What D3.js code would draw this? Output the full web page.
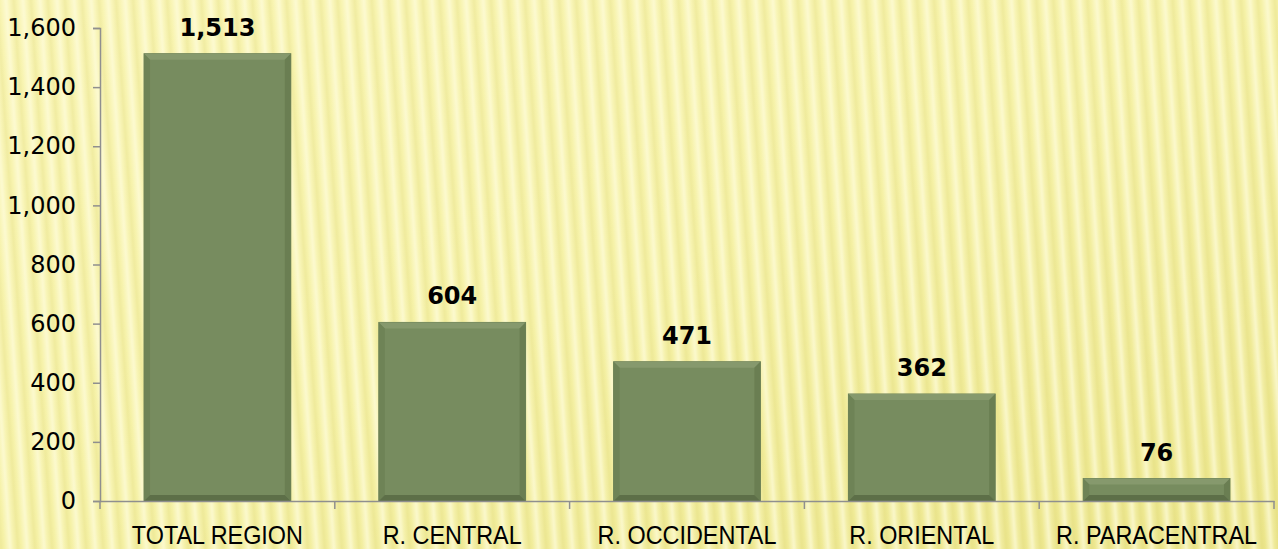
<!DOCTYPE html>
<html><head><meta charset="utf-8">
<script src="https://cdn.jsdelivr.net/npm/d3@7"></script>
<style>html,body{margin:0;padding:0;overflow:hidden;background:#f5f1a8}</style>
</head><body>
<script>
const categories = ["TOTAL REGION", "R. CENTRAL", "R. OCCIDENTAL", "R. ORIENTAL", "R. PARACENTRAL"];
const values = [1513, 604, 471, 362, 76];
const yTicks = [0, 200, 400, 600, 800, 1000, 1200, 1400, 1600];

const W = 1278, H = 549;
const m = {left: 100, right: 4, top: 28, bottom: 48};
const svg = d3.select("body").append("svg").attr("width", W).attr("height", H);
const defs = svg.append("defs");

const bg = defs.append("linearGradient").attr("id","bg").attr("x1","0").attr("y1","0").attr("x2","1").attr("y2","1");
bg.append("stop").attr("offset","0").attr("stop-color","#f8f4b2");
bg.append("stop").attr("offset","0.5").attr("stop-color","#f5f1a6");
bg.append("stop").attr("offset","1").attr("stop-color","#ebe58a");
const sg = defs.append("linearGradient").attr("id","sg").attr("x1","0").attr("y1","0").attr("x2","1").attr("y2","0");
sg.append("stop").attr("offset","0").attr("stop-color","#fffde0").attr("stop-opacity",0.0);
sg.append("stop").attr("offset","0.35").attr("stop-color","#fffde0").attr("stop-opacity",0.7);
sg.append("stop").attr("offset","0.55").attr("stop-color","#fffde0").attr("stop-opacity",0.2);
sg.append("stop").attr("offset","0.8").attr("stop-color","#d8d070").attr("stop-opacity",0.2);
sg.append("stop").attr("offset","1").attr("stop-color","#d8d070").attr("stop-opacity",0.0);
const pat = defs.append("pattern").attr("id","stripes").attr("patternUnits","userSpaceOnUse")
  .attr("width",17).attr("height",600).attr("patternTransform","rotate(-4)");
pat.append("rect").attr("width",17).attr("height",600).attr("fill","url(#sg)");

svg.append("rect").attr("width",W).attr("height",H).attr("fill","url(#bg)");
svg.append("rect").attr("x",-50).attr("y",-50).attr("width",W+100).attr("height",H+100).attr("fill","url(#stripes)");

const x = d3.scaleBand().domain(categories).range([m.left, W - m.right]).paddingInner(0.375).paddingOuter(0.1875);
const y = d3.scaleLinear().domain([0, 1600]).range([H - m.bottom, m.top]);

const bars = svg.append("g").selectAll("g").data(values).join("g");
const b = 6;
bars.each(function(v, i) {
  const g = d3.select(this);
  const x0 = x(categories[i]), x1 = x0 + x.bandwidth();
  const y0 = y(v), y1 = y(0);
  g.append("rect").attr("x", x0).attr("y", y0).attr("width", x1 - x0).attr("height", y1 - y0)
    .attr("fill", "#778c5f").attr("stroke", "#6d8256").attr("stroke-width", 1);
  const poly = (pts, c) => g.append("polygon").attr("points", pts.map(p => p.join(",")).join(" ")).attr("fill", c);
  poly([[x0,y0],[x1,y0],[x1-b,y0+b],[x0+b,y0+b]], "#86996d");
  poly([[x0,y0],[x0+b,y0+b],[x0+b,y1-b],[x0,y1]], "#6e8356");
  poly([[x1,y0],[x1,y1],[x1-b,y1-b],[x1-b,y0+b]], "#6a7e52");
  poly([[x0,y1],[x0+b,y1-b],[x1-b,y1-b],[x1,y1]], "#5d6f48");
});

svg.append("g").selectAll("text").data(values).join("text")
  .attr("x", (d, i) => x(categories[i]) + x.bandwidth() / 2)
  .attr("y", d => y(d) - 18)
  .attr("text-anchor", "middle")
  .attr("font-family", "DejaVu Sans, sans-serif").attr("font-weight", "bold").attr("font-size", 24)
  .attr("fill", "#000")
  .text(d => d3.format(",")(d));

const ya = svg.append("g").attr("transform", `translate(${m.left},0)`)
  .call(d3.axisLeft(y).tickValues(yTicks).tickFormat(d3.format(",")).tickSize(7).tickPadding(17));
ya.select(".domain").attr("stroke", "#8f8f8f").attr("stroke-width", 1.5);
ya.selectAll(".tick line").attr("stroke", "#8f8f8f").attr("stroke-width", 1.5);
ya.selectAll(".tick text").attr("font-family", "DejaVu Sans, sans-serif").attr("font-size", 24).attr("fill", "#000");

const xa = svg.append("g").attr("transform", `translate(0,${y(0)})`)
  .call(d3.axisBottom(x).tickSize(0).tickSizeOuter(0).tickPadding(0));
xa.select(".domain").attr("stroke", "#8f8f8f").attr("stroke-width", 1.5);
xa.selectAll(".tick text").remove();
const step = x.step();
const bounds = d3.range(categories.length + 1).map(k => m.left + k * step);
xa.append("g").selectAll("line").data(bounds).join("line")
  .attr("x1", d => d).attr("x2", d => d).attr("y1", 0).attr("y2", 8)
  .attr("stroke", "#8f8f8f").attr("stroke-width", 1.5);
svg.append("g").selectAll("text").data(categories).join("text")
  .attr("transform", d => `translate(${x(d) + x.bandwidth() / 2},${H - 5}) scale(0.9,1)`)
  .attr("text-anchor", "middle")
  .attr("font-family", "Liberation Sans, Arial, sans-serif").attr("font-size", 26)
  .attr("fill", "#000")
  .text(d => d);
</script>
</body></html>
